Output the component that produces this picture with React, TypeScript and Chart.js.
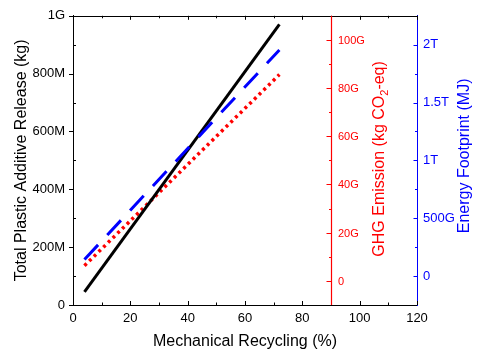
import { useEffect, useRef } from "react";
import { Chart, registerables } from "chart.js";

Chart.register(...registerables);

// Mechanical recycling share (%) at the two ends of each trend line
const recycling = [4, 72];
// Total plastic additive release (kg)
const additiveRelease = [45e6, 970e6];
// GHG emission (kg CO2-eq)
const ghgEmission = [6.3e9, 85.6e9];
// Energy footprint (MJ)
const energyFootprint = [143e9, 1955e9];

const xTicks = [0, 20, 40, 60, 80, 100, 120];
const xMinorTicks = [10, 30, 50, 70, 90, 110];
const releaseTicks = [0, 2e8, 4e8, 6e8, 8e8, 1e9];
const releaseMinorTicks = [1e8, 3e8, 5e8, 7e8, 9e8];
const ghgTicks = [0, 2e10, 4e10, 6e10, 8e10, 1e11];
const ghgMinorTicks = [1e10, 3e10, 5e10, 7e10, 9e10];
const energyTicks = [0, 5e11, 1e12, 1.5e12, 2e12];
const energyMinorTicks = [2.5e11, 7.5e11, 1.25e12, 1.75e12];

const FONT = '"Liberation Sans", Arial, sans-serif';
const RED = "#ff0000";
const BLUE = "#0000ff";
const GHG_AXIS_AT = 90;

const si = (v: number): string => {
  if (v === 0) return "0";
  const units: [number, string][] = [
    [1e12, "T"],
    [1e9, "G"],
    [1e6, "M"],
    [1e3, "k"],
  ];
  for (const [f, s] of units) {
    if (Math.abs(v) >= f) return `${+(v / f).toFixed(2)}${s}`;
  }
  return String(v);
};

const setTicks = (values: number[]) => (scale: any) => {
  scale.ticks = values.map((value) => ({ value }));
};

const crisp = (v: number) => Math.round(v) + 0.5;

// Frame, inward/outward tick marks, the GHG axis inside the plot and the right-hand titles
const axesDecor = {
  id: "axesDecor",
  afterDatasetsDraw(chart: any) {
    const { ctx, chartArea: a, scales } = chart;
    const x = scales.x;
    const y = scales.y;
    const ghg = scales.ghg;
    const energy = scales.energy;

    const seg = (x1: number, y1: number, x2: number, y2: number) => {
      ctx.beginPath();
      ctx.moveTo(x1, y1);
      ctx.lineTo(x2, y2);
      ctx.stroke();
    };

    ctx.save();
    ctx.lineWidth = 1;

    // top border + ticks on top and bottom, pointing into the plot
    ctx.strokeStyle = "#000";
    seg(a.left, crisp(a.top), a.right, crisp(a.top));
    for (const v of xTicks) {
      const px = crisp(x.getPixelForValue(v));
      seg(px, a.bottom, px, a.bottom - 4);
      seg(px, a.top, px, a.top + 4);
    }
    for (const v of xMinorTicks) {
      const px = crisp(x.getPixelForValue(v));
      seg(px, a.bottom, px, a.bottom - 2.5);
      seg(px, a.top, px, a.top + 2.5);
    }

    // left axis: major ticks outward, minor ticks inward
    for (const v of releaseTicks) {
      const py = crisp(y.getPixelForValue(v));
      seg(a.left, py, a.left - 4, py);
    }
    for (const v of releaseMinorTicks) {
      const py = crisp(y.getPixelForValue(v));
      seg(a.left, py, a.left + 3, py);
    }

    // GHG axis drawn inside the plot at x = 90
    const rx = crisp(x.getPixelForValue(GHG_AXIS_AT));
    ctx.strokeStyle = RED;
    ctx.fillStyle = RED;
    ctx.lineWidth = 1.2;
    seg(rx, a.top, rx, a.bottom);
    ctx.lineWidth = 1;
    ctx.font = `11px ${FONT}`;
    ctx.textAlign = "left";
    ctx.textBaseline = "middle";
    for (const v of ghgTicks) {
      const py = crisp(ghg.getPixelForValue(v));
      seg(rx, py, rx - 5, py);
      ctx.fillText(si(v), rx + 6.5, py);
    }
    for (const v of ghgMinorTicks) {
      const py = crisp(ghg.getPixelForValue(v));
      seg(rx, py, rx - 2.5, py);
    }

    // GHG title with subscript, reading bottom to top
    ctx.save();
    ctx.translate(rx + 48.5, (a.top + a.bottom) / 2 - 1.5);
    ctx.rotate(-Math.PI / 2);
    const big = `16px ${FONT}`;
    const small = `11px ${FONT}`;
    const p1 = "GHG Emission (kg CO";
    const p2 = "2";
    const p3 = "-eq)";
    ctx.font = big;
    const w1 = ctx.measureText(p1).width;
    const w3 = ctx.measureText(p3).width;
    ctx.font = small;
    const w2 = ctx.measureText(p2).width;
    let cx = -(w1 + w2 + w3) / 2;
    ctx.textAlign = "left";
    ctx.textBaseline = "middle";
    ctx.font = big;
    ctx.fillText(p1, cx, 0);
    cx += w1;
    ctx.font = small;
    ctx.fillText(p2, cx, 5);
    cx += w2;
    ctx.font = big;
    ctx.fillText(p3, cx, 0);
    ctx.restore();

    // energy axis ticks, pointing left
    ctx.strokeStyle = BLUE;
    const bx = crisp(a.right);
    for (const v of energyTicks) {
      const py = crisp(energy.getPixelForValue(v));
      seg(bx, py, bx - 4, py);
    }
    for (const v of energyMinorTicks) {
      const py = crisp(energy.getPixelForValue(v));
      seg(bx, py, bx - 2.5, py);
    }

    // energy title, reading bottom to top
    ctx.save();
    ctx.fillStyle = BLUE;
    ctx.translate(a.right + 48, (a.top + a.bottom) / 2 - 4.5);
    ctx.rotate(-Math.PI / 2);
    ctx.font = `16px ${FONT}`;
    ctx.textAlign = "center";
    ctx.textBaseline = "middle";
    ctx.fillText("Energy Footprint (MJ)", 0, 0);
    ctx.restore();

    ctx.restore();
  },
};

const points = (ys: number[]) => recycling.map((x, i) => ({ x, y: ys[i] }));

export default function App() {
  const ref = useRef<HTMLCanvasElement>(null);

  useEffect(() => {
    document.body.style.margin = "0";
    Chart.defaults.font.family = FONT;
    const chart = new Chart(ref.current!, {
      type: "line",
      data: {
        datasets: [
          {
            label: "Energy footprint",
            data: points(energyFootprint),
            yAxisID: "energy",
            borderColor: BLUE,
            borderWidth: 3,
            borderDash: [20, 13.5],
            borderCapStyle: "butt",
            pointRadius: 0,
            tension: 0,
          },
          {
            label: "Additive release",
            data: points(additiveRelease),
            yAxisID: "y",
            borderColor: "#000",
            borderWidth: 3,
            borderCapStyle: "butt",
            pointRadius: 0,
            tension: 0,
          },
          {
            label: "GHG emission",
            data: points(ghgEmission),
            yAxisID: "ghg",
            borderColor: RED,
            borderWidth: 3.5,
            borderDash: [3, 3.6],
            borderCapStyle: "butt",
            pointRadius: 0,
            tension: 0,
          },
        ],
      },
      options: {
        responsive: false,
        devicePixelRatio: 1,
        animation: false,
        layout: { padding: { top: 14, left: 0, right: 0, bottom: 0 } },
        plugins: {
          legend: { display: false },
          tooltip: { enabled: false },
        },
        scales: {
          x: {
            type: "linear",
            min: 0,
            max: 120,
            afterBuildTicks: setTicks(xTicks),
            afterFit: (s: any) => {
              s.height = 51;
            },
            ticks: {
              font: { size: 13 },
              color: "#000",
              padding: 6,
              maxRotation: 0,
              callback: (v: any) => String(v),
            },
            grid: { display: false, drawTicks: false },
            border: { display: true, color: "#000", width: 1 },
            title: {
              display: true,
              text: "Mechanical Recycling (%)",
              font: { size: 16 },
              color: "#000",
              padding: { top: 0, bottom: 5 },
            },
          },
          y: {
            type: "linear",
            position: "left",
            min: 0,
            max: 1e9,
            afterBuildTicks: setTicks(releaseTicks),
            afterFit: (s: any) => {
              s.width = 73;
            },
            ticks: {
              font: { size: 13 },
              color: "#000",
              padding: 8,
              callback: (v: any) => si(Number(v)),
            },
            grid: { display: false, drawTicks: false },
            border: { display: true, color: "#000", width: 1 },
            title: {
              display: true,
              text: "Total Plastic Additive Release (kg)",
              font: { size: 16 },
              color: "#000",
              padding: { top: 12, bottom: 0 },
            },
          },
          ghg: {
            type: "linear",
            position: "right",
            display: false,
            min: -1e10,
            max: 1.1e11,
          },
          energy: {
            type: "linear",
            position: "right",
            min: -2.5e11,
            max: 2.25e12,
            afterBuildTicks: setTicks(energyTicks),
            afterFit: (s: any) => {
              s.width = 60;
            },
            ticks: {
              font: { size: 13 },
              color: BLUE,
              padding: 6,
              callback: (v: any) => si(Number(v)),
            },
            grid: { display: false, drawTicks: false },
            border: { display: true, color: BLUE, width: 1 },
          },
        },
      },
      plugins: [axesDecor],
    });
    return () => chart.destroy();
  }, []);

  return (
    <div style={{ width: 477, height: 356 }}>
      <canvas ref={ref} width={477} height={356} style={{ display: "block" }} />
    </div>
  );
}
